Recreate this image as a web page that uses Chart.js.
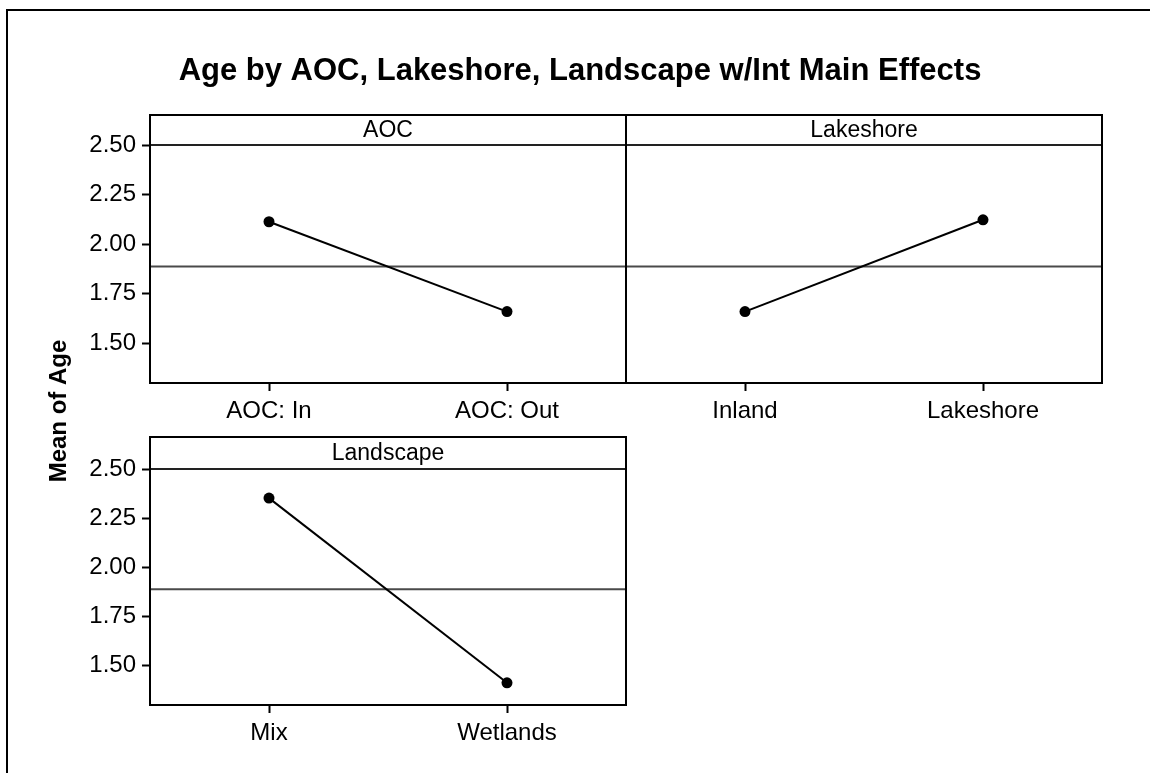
<!DOCTYPE html>
<html>
<head>
<meta charset="utf-8">
<script src="https://cdn.jsdelivr.net/npm/chart.js@4.4.1/dist/chart.umd.min.js"></script>
<style>
  html, body { margin: 0; padding: 0; background: #fff; width: 1150px; height: 773px; overflow: hidden; }
  canvas { position: absolute; left: 0; top: 0; }
</style>
</head>
<body>
<canvas id="c1" width="1150" height="773"></canvas>
<canvas id="c2" width="1150" height="773"></canvas>
<canvas id="c3" width="1150" height="773"></canvas>
<script>
// ---- data ----
const chartTitle = 'Age by AOC, Lakeshore, Landscape w/Int Main Effects';
const yAxisTitle = 'Mean of Age';
const panelTitles = ['AOC', 'Lakeshore', 'Landscape'];
const aocLevels = ['AOC: In', 'AOC: Out'];
const aocMeans = [2.113, 1.660];
const lakeLevels = ['Inland', 'Lakeshore'];
const lakeMeans = [1.660, 2.123];
const landLevels = ['Mix', 'Wetlands'];
const landMeans = [2.352, 1.413];
const grandMean = 1.888;
const yTicks = [1.50, 1.75, 2.00, 2.25, 2.50];
const yMin = 1.30, yMax = 2.50;

// ---- layout / style ----
const FONT = "'Liberation Sans', Arial, sans-serif";
const W = 1150, H = 773, YAXIS_W = 80, XAXIS_H = 40;

const panelFrame = {
  id: 'panelFrame',
  beforeDatasetsDraw(chart, args, opts) {
    const ctx = chart.ctx, a = chart.chartArea;
    const y = chart.scales.y.getPixelForValue(grandMean);
    ctx.save();
    ctx.strokeStyle = '#4a4a4a';
    ctx.lineWidth = 2;
    ctx.beginPath();
    ctx.moveTo(a.left, y); ctx.lineTo(a.right, y);
    ctx.stroke();
    ctx.restore();
  },
  afterDraw(chart, args, opts) {
    const ctx = chart.ctx, a = chart.chartArea;
    ctx.save();
    // strip separator line
    ctx.strokeStyle = '#222';
    ctx.lineWidth = 2;
    ctx.beginPath();
    ctx.moveTo(a.left, a.top); ctx.lineTo(a.right, a.top);
    ctx.stroke();
    // box
    ctx.strokeStyle = '#000';
    ctx.lineWidth = 2;
    ctx.strokeRect(a.left, a.top - opts.stripH, a.right - a.left, a.bottom - a.top + opts.stripH);
    // strip label
    ctx.fillStyle = '#000';
    ctx.font = '23px ' + FONT;
    ctx.textAlign = 'center';
    ctx.textBaseline = 'middle';
    ctx.fillText(opts.label, (a.left + a.right) / 2, a.top - opts.stripH / 2 + 1);
    if (opts.main) {
      // outer frame
      ctx.lineWidth = 2;
      ctx.beginPath();
      ctx.moveTo(7, H); ctx.lineTo(7, 10); ctx.lineTo(W, 10);
      ctx.stroke();
      // main title
      ctx.font = 'bold 31px ' + FONT;
      ctx.textAlign = 'center';
      ctx.textBaseline = 'alphabetic';
      ctx.fillText(chartTitle, 580, 80);
      // y axis title
      ctx.translate(66, 411);
      ctx.rotate(-Math.PI / 2);
      ctx.font = 'bold 24px ' + FONT;
      ctx.fillText(yAxisTitle, 0, 0);
    }
    ctx.restore();
  }
};

function makePanel(id, labels, values, cfg) {
  const tickFont = { family: FONT, size: 24 };
  return new Chart(document.getElementById(id), {
    type: 'line',
    data: {
      labels: labels,
      datasets: [{
        data: values,
        borderColor: '#000',
        backgroundColor: '#000',
        borderWidth: 2,
        pointRadius: 5.5,
        pointBorderWidth: 0,
        pointBackgroundColor: '#000',
        tension: 0,
        clip: false
      }]
    },
    options: {
      responsive: false,
      animation: false,
      events: [],
      layout: {
        padding: {
          left: cfg.left - (cfg.showY ? YAXIS_W : 0),
          top: cfg.top,
          right: W - cfg.right,
          bottom: H - cfg.bottom - XAXIS_H
        }
      },
      plugins: {
        legend: { display: false },
        tooltip: { enabled: false },
        title: { display: false },
        panelFrame: { label: cfg.label, stripH: cfg.stripH, main: cfg.main }
      },
      scales: {
        x: {
          type: 'category',
          offset: true,
          border: { display: false },
          grid: { display: true, offset: false, drawOnChartArea: false, drawTicks: true, tickLength: 8, tickColor: '#000', tickWidth: 2 },
          ticks: { font: tickFont, color: '#000', padding: 6, maxRotation: 0, autoSkip: false },
          afterFit(s) { s.height = XAXIS_H; }
        },
        y: {
          type: 'linear',
          min: yMin,
          max: yMax,
          display: cfg.showY,
          border: { display: false },
          grid: { display: true, drawOnChartArea: false, drawTicks: true, tickLength: 8, tickColor: '#000', tickWidth: 2 },
          ticks: { font: tickFont, color: '#000', padding: 6, callback: v => Number(v).toFixed(2) },
          afterBuildTicks(s) { s.ticks = yTicks.map(v => ({ value: v })); },
          afterFit(s) { s.width = s.options.display ? YAXIS_W : 0; }
        }
      }
    },
    plugins: [panelFrame]
  });
}

makePanel('c1', aocLevels, aocMeans, { left: 150, right: 626, top: 145, bottom: 383, stripH: 30, showY: true, label: panelTitles[0], main: true });
makePanel('c2', lakeLevels, lakeMeans, { left: 626, right: 1102, top: 145, bottom: 383, stripH: 30, showY: false, label: panelTitles[1], main: false });
makePanel('c3', landLevels, landMeans, { left: 150, right: 626, top: 469, bottom: 705, stripH: 32, showY: true, label: panelTitles[2], main: false });
</script>
</body>
</html>
